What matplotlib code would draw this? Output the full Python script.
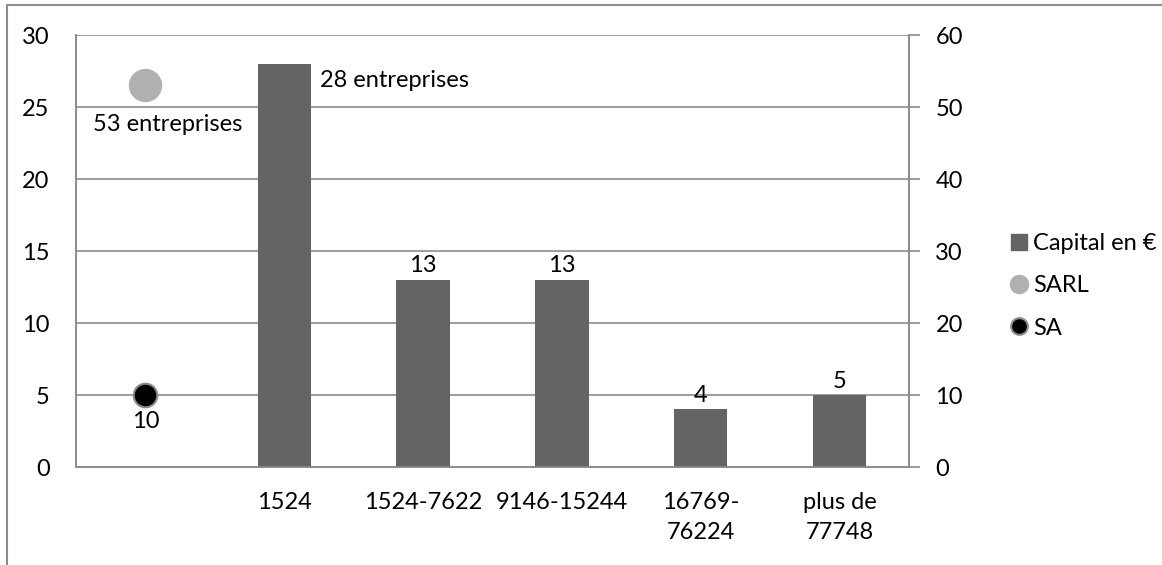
import matplotlib
matplotlib.use("Agg")
import matplotlib.pyplot as plt
from matplotlib.lines import Line2D
from matplotlib.patches import Rectangle

plt.rcParams['font.family'] = ['Lato', 'DejaVu Sans']

categories = ["", "1524", "1524-7622", "9146-15244", "16769-\n76224", "plus de\n77748"]
capital = [None, 28, 13, 13, 4, 5]
bar_labels = ["", "28 entreprises", "13", "13", "4", "5"]
sarl_value = 53
sa_value = 10
sarl_label = "53 entreprises"
sa_label = "10"

FS = 17
W, H = 1162, 565
fig = plt.figure(figsize=(W / 100, H / 100), dpi=100)
fig.patches.append(Rectangle((7 / W, -0.2), 1.2, 1.2 - 5 / H, transform=fig.transFigure,
                             fill=False, edgecolor="#8c8c8c", linewidth=1.5))

ax = fig.add_axes([76 / W, 1 - 467 / H, (909 - 76) / W, (467 - 35) / H])
ax2 = ax.twinx()

xs = list(range(len(categories)))
bx = [x for x, v in zip(xs, capital) if v is not None]
bv = [v for v in capital if v is not None]
ax.bar(bx, bv, width=0.385, color="#646464", zorder=3)

ax.set_xlim(-0.5, len(categories) - 0.5)
ax.set_ylim(0, 30)
ax.set_yticks(range(0, 31, 5))
ax.grid(axis="y", color="#8c8c8c", linewidth=1.2, zorder=0)
ax.set_axisbelow(True)
ax.set_xticks(xs)
ax.set_xticklabels(categories, fontsize=FS, linespacing=1.55)
ax.tick_params(axis="x", length=0, pad=18)
ax.tick_params(axis="y", length=0, pad=19, labelsize=FS)

ax2.set_ylim(0, 60)
ax2.set_yticks(range(0, 61, 10))
ax2.tick_params(axis="y", direction="out", length=8, width=1.2, color="#8c8c8c",
                pad=11, labelsize=FS)

for a in (ax, ax2):
    a.spines["top"].set_visible(False)
    for s in ("left", "right", "bottom"):
        a.spines[s].set_color("#8c8c8c")
        a.spines[s].set_linewidth(1.2)

# bar labels
for x, v, lab in zip(bx, bv, bar_labels[1:]):
    if "entreprises" in lab:
        ax.annotate(lab, (x, v), xytext=(26, -12), textcoords="offset points",
                    ha="left", va="center", fontsize=FS, zorder=5)
    else:
        ax.annotate(lab, (x, v), xytext=(0, 10), textcoords="offset points",
                    ha="center", va="center", fontsize=FS, zorder=5)

# scatter points on secondary axis
ax2.scatter([0], [sarl_value], s=24**2, color="#b0b0b0", zorder=5, linewidths=0)
ax2.scatter([0], [sa_value], s=17**2, color="black", edgecolors="#8c8c8c",
            linewidths=1.5, zorder=5)
ax2.annotate(sarl_label, (0, sarl_value), xytext=(16, -28), textcoords="offset points",
             ha="center", va="center", fontsize=FS)
ax2.annotate(sa_label, (0, sa_value), xytext=(0, -19), textcoords="offset points",
             ha="center", va="center", fontsize=FS)

handles = [
    Line2D([], [], marker="s", linestyle="none", color="#646464", markersize=12),
    Line2D([], [], marker="o", linestyle="none", color="#b0b0b0", markersize=13),
    Line2D([], [], marker="o", linestyle="none", markerfacecolor="black",
           markeredgecolor="#8c8c8c", markeredgewidth=1.5, markersize=12),
]
fig.legend(handles, ["Capital en €", "SARL", "SA"], loc="center left",
           bbox_to_anchor=(1007 / W, 1 - 286 / H), frameon=False, fontsize=FS,
           handletextpad=0.1, labelspacing=0.9, handlelength=1.0, borderpad=0,
           borderaxespad=0)

fig.savefig("out.png", dpi=100)
